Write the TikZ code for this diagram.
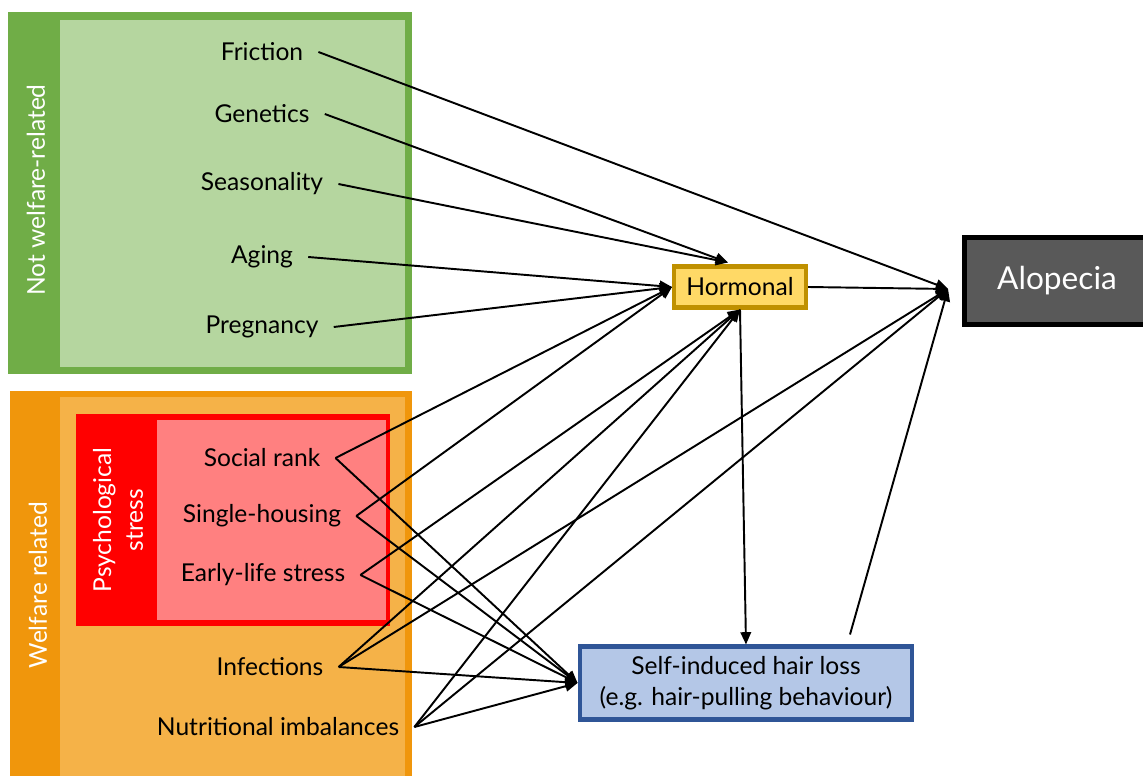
\documentclass[tikz,border=0pt]{standalone}
\usepackage{fontspec}
\setmainfont{Lato}
\usepackage{tikz}
\usetikzlibrary{positioning,arrows.meta,calc}
\usepackage{xcolor}
\definecolor{groupgreen}{RGB}{112,173,71}
\definecolor{panelgreen}{RGB}{181,214,159}
\definecolor{grouporange}{RGB}{240,150,12}
\definecolor{panelorange}{RGB}{245,178,72}
\definecolor{stressred}{RGB}{255,0,0}
\definecolor{stresspink}{RGB}{255,128,128}
\definecolor{hormgold}{RGB}{191,144,0}
\definecolor{hormfill}{RGB}{255,217,102}
\definecolor{selfblue}{RGB}{47,85,151}
\definecolor{selffill}{RGB}{180,199,231}
\definecolor{alopgray}{RGB}{89,89,89}

\tikzset{
  factor/.style={inner xsep=8.5pt,inner ysep=2pt,font=\fontsize{14}{17}\selectfont},
  sidelabel/.style={rotate=90,text=white,align=center,font=\fontsize{14}{18}\selectfont},
  link/.style={-{Triangle[length=7pt,width=6pt]},line width=1.1pt},
}

\begin{document}
\begin{tikzpicture}[x=0.02cm,y=-0.02cm]
\useasboundingbox (0,0) rectangle (1143,776);
\fill[groupgreen] (8,12) rectangle (412,374);
\fill[panelgreen] (60,20) rectangle (405,367);
\fill[grouporange] (10,391) rectangle (412,780);
\fill[panelorange] (60,397) rectangle (405,780);
\fill[stressred] (76,414) rectangle (390,626);
\fill[stresspink] (157,420) rectangle (386,620);
\node[sidelabel] (notwelf) at (36,190) {Not welfare-related};
\node[sidelabel] (welf) at (38,585) {Welfare related};
\node[sidelabel] (psych) at (118,520) {Psychological\\stress};

\node[factor] (fric) at (262,52) {Friction};
\node[factor] (gene) at (262,114) {Genetics};
\node[factor] (seas) at (262,184) {Seasonality};
\node[factor] (agin) at (262,257) {Aging};
\node[factor] (preg) at (262,327) {Pregnancy};
\node[factor] (rank) at (262,458) {Social rank};
\node[factor] (hous) at (262,516) {Single-housing};
\node[factor] (life) at (263,575) {Early-life stress};
\node[factor] (infe) at (270,667) {Infections};
\node[factor] (nutr) at (278,727) {Nutritional imbalances};

\node[rectangle,draw=hormgold,fill=hormfill,line width=2.3pt,
      minimum width=2.64cm,minimum height=0.82cm,
      font=\fontsize{14}{17}\selectfont] (horm) at (740,287) {Hormonal};
\node[rectangle,draw=black,fill=alopgray,line width=2.8pt,text=white,
      minimum width=3.7cm,minimum height=1.74cm,
      font=\fontsize{18}{22}\selectfont] (alop) at (1057,281) {Alopecia};
\node[rectangle,draw=selfblue,fill=selffill,line width=2.3pt,
      minimum width=6.66cm,minimum height=1.46cm,align=center,
      font=\fontsize{14}{17.6}\selectfont] (self) at (746,683) {Self-induced hair loss\\(e.g. hair-pulling behaviour)};
\coordinate (alopin) at ($(alop.west)+(-14,8)$);

\draw[link] (fric.east) -- (alopin);
\draw[link] (gene.east) -- ($(horm.north)+(-12,-2)$);
\draw[link] (seas.east) -- ($(horm.north)+(-12,-2)$);
\draw[link] (agin.east) -- (horm.west);
\draw[link] (preg.east) -- (horm.west);
\draw[link] (rank.east) -- (horm.west);
\draw[link] (rank.east) -- (self.west);
\draw[link] (hous.east) -- (horm.west);
\draw[link] (hous.east) -- (self.west);
\draw[link] (life.east) -- (horm.south);
\draw[link] (life.east) -- (self.west);
\draw[link] (infe.east) -- (horm.south);
\draw[link] (infe.east) -- (alopin);
\draw[link] (infe.east) -- (self.west);
\draw[link] (nutr.east) -- (horm.south);
\draw[link] (nutr.east) -- (alopin);
\draw[link] (nutr.east) -- (self.west);
\draw[link] (horm.east) -- (alopin);
\draw[link] (horm.south) -- (self.north);
\draw[link] ($(self.north)+(104,-10)$) -- (alopin);
\end{tikzpicture}
\end{document}
